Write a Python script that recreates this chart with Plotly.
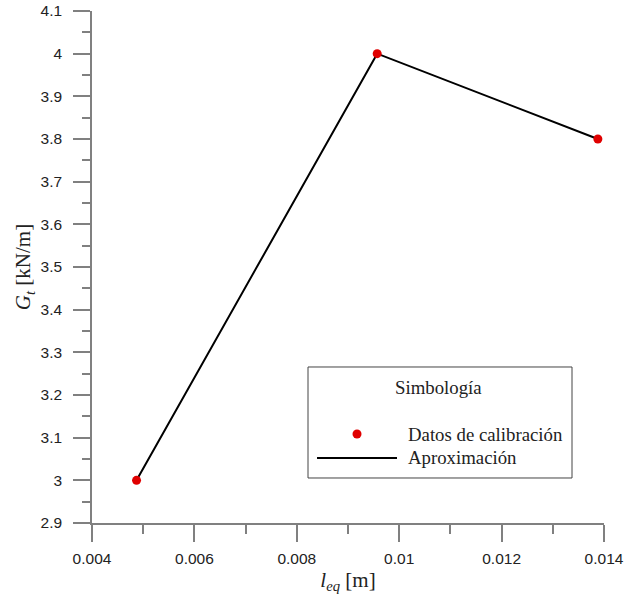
import plotly.graph_objects as go

# Data
leq_m = [0.00487, 0.00957, 0.01388]
gt_knm = [3.0, 4.0, 3.8]
x_tickvals = [0.004, 0.006, 0.008, 0.010, 0.012, 0.014]
x_ticktext = ["0.004", "0.006", "0.008", "0.01", "0.012", "0.014"]
y_tickvals = [2.9, 3.0, 3.1, 3.2, 3.3, 3.4, 3.5, 3.6, 3.7, 3.8, 3.9, 4.0, 4.1]
y_ticktext = ["2.9", "3", "3.1", "3.2", "3.3", "3.4", "3.5", "3.6", "3.7", "3.8", "3.9", "4", "4.1"]
legend_title = "Simbología"
series_names = ["Datos de calibración", "Aproximación"]

AXIS_GRAY = "#808080"
RED = "#e00000"
SERIF = "Liberation Serif, Times New Roman, serif"
SANS = "Liberation Sans, Arial, sans-serif"

fig = go.Figure()
fig.add_trace(go.Scatter(x=leq_m, y=gt_knm, mode="lines",
                         line=dict(color="black", width=2),
                         name=series_names[1], showlegend=False))
fig.add_trace(go.Scatter(x=leq_m, y=gt_knm, mode="markers",
                         marker=dict(color=RED, size=9),
                         name=series_names[0], showlegend=False, cliponaxis=False))

fig.update_layout(
    width=624, height=600,
    margin=dict(l=92, r=20, t=11, b=77),
    plot_bgcolor="white", paper_bgcolor="white",
    showlegend=False,
)

fig.update_xaxes(
    range=[0.004, 0.014], automargin="height",
    tickmode="array", tickvals=x_tickvals, ticktext=x_ticktext,
    ticks="outside", ticklen=17, tickwidth=1.5, tickcolor=AXIS_GRAY,
    showline=True, linecolor=AXIS_GRAY, linewidth=1.5,
    showgrid=False, zeroline=False,
    tickfont=dict(family=SANS, size=15.5, color="#222"),
    ticklabelstandoff=4, ticklabeloverflow="allow",
    minor=dict(dtick=0.001, ticks="outside", ticklen=9, tickwidth=1.5, tickcolor=AXIS_GRAY, showgrid=False),
    title=dict(text="<i>l</i><sub><i>eq</i></sub> [m]", font=dict(family=SERIF, size=21, color="#222"), standoff=6),
)
fig.update_yaxes(
    range=[2.9, 4.1], automargin=False,
    tickmode="array", tickvals=y_tickvals, ticktext=y_ticktext,
    ticks="outside", ticklen=17, tickwidth=1.5, tickcolor=AXIS_GRAY,
    showline=True, linecolor=AXIS_GRAY, linewidth=1.5,
    showgrid=False, zeroline=False,
    tickfont=dict(family=SANS, size=15.5, color="#222"),
    ticklabelstandoff=8, ticklabeloverflow="allow",
    minor=dict(dtick=0.05, tick0=2.9, ticks="outside", ticklen=8, tickwidth=1.5, tickcolor=AXIS_GRAY, showgrid=False),
    title=dict(text="<i>G</i><sub><i>t</i></sub> [kN/m]", font=dict(family=SERIF, size=21, color="#222"), standoff=4),
)

# Custom legend box (paper coords)
LEG_FONT = dict(family=SERIF, size=18.8, color="#222")
fig.add_shape(type="rect", xref="paper", yref="paper",
              x0=0.4219, x1=0.9375, y0=0.0879, y1=0.3047,
              line=dict(color="#444", width=1), fillcolor="white", layer="above")
fig.add_annotation(xref="paper", yref="paper", x=0.6777, y=0.2637, text=legend_title,
                   showarrow=False, font=LEG_FONT, xanchor="center", yanchor="middle")
fig.add_shape(type="circle", xref="paper", yref="paper", layer="above",
              x0=-4.5, x1=4.5, y0=-4.5, y1=4.5,
              xsizemode="pixel", ysizemode="pixel", xanchor=0.5176, yanchor=0.1738,
              line=dict(color=RED, width=0), fillcolor=RED)
fig.add_shape(type="line", xref="paper", yref="paper", layer="above",
              x0=0.4395, x1=0.5957, y0=0.127, y1=0.127,
              line=dict(color="black", width=2))
fig.add_annotation(xref="paper", yref="paper", x=0.6133, y=0.1738, text=series_names[0],
                   showarrow=False, font=LEG_FONT, xanchor="left", yanchor="middle")
fig.add_annotation(xref="paper", yref="paper", x=0.6133, y=0.127, text=series_names[1],
                   showarrow=False, font=LEG_FONT, xanchor="left", yanchor="middle")

# remove the default 8px page margin so the 624x600 figure fills the window
fig.write_html("out.html", config={"displayModeBar": False},
               post_script="document.body.style.margin='0px';document.body.style.overflow='hidden';")
